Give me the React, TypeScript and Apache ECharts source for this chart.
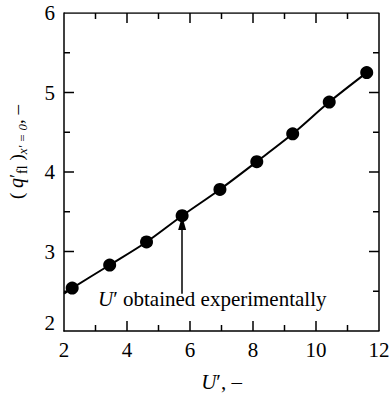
import React, { useEffect, useRef } from "react";
import * as echarts from "echarts";

const uValues = [2.26, 3.45, 4.62, 5.75, 6.95, 8.12, 9.26, 10.42, 11.61];
const qValues = [2.54, 2.83, 3.12, 3.45, 3.78, 4.13, 4.48, 4.88, 5.25];
// fitted curve: starts at the left axis, then runs through the points
const curveU = [2.0, 2.26, 3.45, 4.62, 5.75, 6.95, 8.12, 9.26, 10.42, 11.61];
const curveQ = [2.47, 2.54, 2.83, 3.12, 3.45, 3.78, 4.13, 4.48, 4.88, 5.25];
const arrowU = 5.75;
const arrowFromQ = 2.47;
const arrowToQ = 3.36;
const xTicks = [2, 4, 6, 8, 10, 12];
const xMinorTicks = [3, 5, 7, 9, 11];
const yTicks = [2, 3, 4, 5, 6];
const yMinorTicks = [2.5, 3.5, 4.5, 5.5];

const FONT = "Liberation Serif";
const GRID = { left: 64, right: 10, top: 13, bottom: 65 };
const W = 389;
const H = 396;
const MAJOR_LEN = 10;
const MINOR_LEN = 6;

export default function App() {
  const ref = useRef<HTMLDivElement>(null);
  useEffect(() => {
    document.body.style.margin = "0";
    if (!ref.current) return;
    const chart = echarts.init(ref.current, undefined, { renderer: "svg" });
    const xMin = xTicks[0];
    const xMax = xTicks[xTicks.length - 1];
    const yMin = yTicks[0];
    const yMax = yTicks[yTicks.length - 1];
    const seg = (a: number[], b: number[]) => [{ coord: a }, { coord: b }];

    const annotation = {
      type: "text",
      id: "note",
      left: 98,
      top: 288,
      style: {
        text: "{u|U}{p|′ obtained experimentally}",
        rich: {
          u: { fontFamily: FONT, fontSize: 21, fontStyle: "italic", fill: "#000" },
          p: { fontFamily: FONT, fontSize: 21, fill: "#000" },
        },
      },
    };

    chart.setOption({
      animation: false,
      backgroundColor: "#fff",
      textStyle: { fontFamily: FONT },
      grid: { ...GRID, outerBoundsMode: "none", containLabel: false },
      xAxis: {
        type: "value",
        min: xMin,
        max: xMax,
        interval: 2,
        axisLine: { show: true, onZero: false, lineStyle: { color: "#000", width: 1.5 } },
        axisTick: { show: false },
        splitLine: { show: false },
        axisLabel: { color: "#000", fontFamily: FONT, fontSize: 21, margin: 8 },
        name: "{u|U}{p|′, –}",
        nameLocation: "middle",
        nameGap: 40,
        nameTextStyle: {
          rich: {
            u: { fontFamily: FONT, fontSize: 21, fontStyle: "italic", color: "#000" },
            p: { fontFamily: FONT, fontSize: 21, color: "#000" },
          },
        },
      },
      yAxis: {
        type: "value",
        min: yMin,
        max: yMax,
        interval: 1,
        axisLine: { show: true, onZero: false, lineStyle: { color: "#000", width: 1.5 } },
        axisTick: { show: false },
        splitLine: { show: false },
        axisLabel: {
          color: "#000",
          fontFamily: FONT,
          fontSize: 21,
          margin: 9,
          formatter: (v: number) => (v === yMin ? "{b|" + v + "}" : String(v)),
          rich: { b: { fontFamily: FONT, fontSize: 21, color: "#000", padding: [0, 0, 16, 0] } },
        },
        name: "{p|( }{q|q}{p|′}{s|fl}{p| )}{x|x′ = 0}{p|, –}",
        nameLocation: "middle",
        nameGap: 35,
        nameRotate: 90,
        nameTextStyle: {
          padding: [0, 0, 0, 40],
          rich: {
            p: { fontFamily: FONT, fontSize: 19, color: "#000", lineHeight: 26 },
            q: { fontFamily: FONT, fontSize: 20, fontStyle: "italic", color: "#000", lineHeight: 26 },
            s: { fontFamily: FONT, fontSize: 14, color: "#000", lineHeight: 26, verticalAlign: "bottom" },
            x: { fontFamily: FONT, fontSize: 13, fontStyle: "italic", color: "#000", lineHeight: 26, verticalAlign: "bottom" },
          },
        },
      },
      series: [
        {
          type: "line",
          data: [
            [xMin, yMax],
            [xMax, yMax],
            [xMax, yMin],
          ],
          showSymbol: false,
          silent: true,
          lineStyle: { color: "#000", width: 1.5 },
          z: 1,
        },
        {
          type: "line",
          data: curveU.map((u, i) => [u, curveQ[i]]),
          smooth: 0.3,
          showSymbol: false,
          lineStyle: { color: "#000", width: 2 },
          z: 2,
          markLine: {
            silent: true,
            symbol: ["none", "triangle"],
            symbolSize: [8, 14],
            label: { show: false },
            lineStyle: { color: "#000", width: 1.5, type: "solid" },
            data: [seg([arrowU, arrowFromQ], [arrowU, arrowToQ])],
          },
        },
        {
          type: "scatter",
          data: uValues.map((u, i) => [u, qValues[i]]),
          symbolSize: 13,
          itemStyle: { color: "#000", opacity: 1 },
          z: 3,
        },
      ],
      graphic: [annotation],
    });

    // axis ticks on all four sides, placed through the chart's own scales
    const px = (p: number[]) => chart.convertToPixel({ gridIndex: 0 }, p) as number[];
    const tickEls: any[] = [];
    const lineEl = (x1: number, y1: number, x2: number, y2: number) => ({
      type: "line",
      silent: true,
      z: 10,
      shape: { x1, y1, x2, y2 },
      style: { stroke: "#000", lineWidth: 1.5 },
    });
    const addX = (v: number, len: number) => {
      const b = px([v, yMin]);
      const t = px([v, yMax]);
      tickEls.push(lineEl(b[0], b[1], b[0], b[1] - len));
      tickEls.push(lineEl(t[0], t[1], t[0], t[1] + len));
    };
    const addY = (v: number, len: number) => {
      const l = px([xMin, v]);
      const r = px([xMax, v]);
      tickEls.push(lineEl(l[0], l[1], l[0] + len, l[1]));
      tickEls.push(lineEl(r[0], r[1], r[0] - len, r[1]));
    };
    xTicks.slice(1, -1).forEach((v) => addX(v, MAJOR_LEN));
    xMinorTicks.forEach((v) => addX(v, MINOR_LEN));
    yTicks.slice(1, -1).forEach((v) => addY(v, MAJOR_LEN));
    yMinorTicks.forEach((v) => addY(v, MINOR_LEN));
    chart.setOption({ graphic: [annotation, ...tickEls] }, { replaceMerge: ["graphic"] });

    return () => chart.dispose();
  }, []);
  return <div ref={ref} style={{ width: W, height: H }} />;
}
